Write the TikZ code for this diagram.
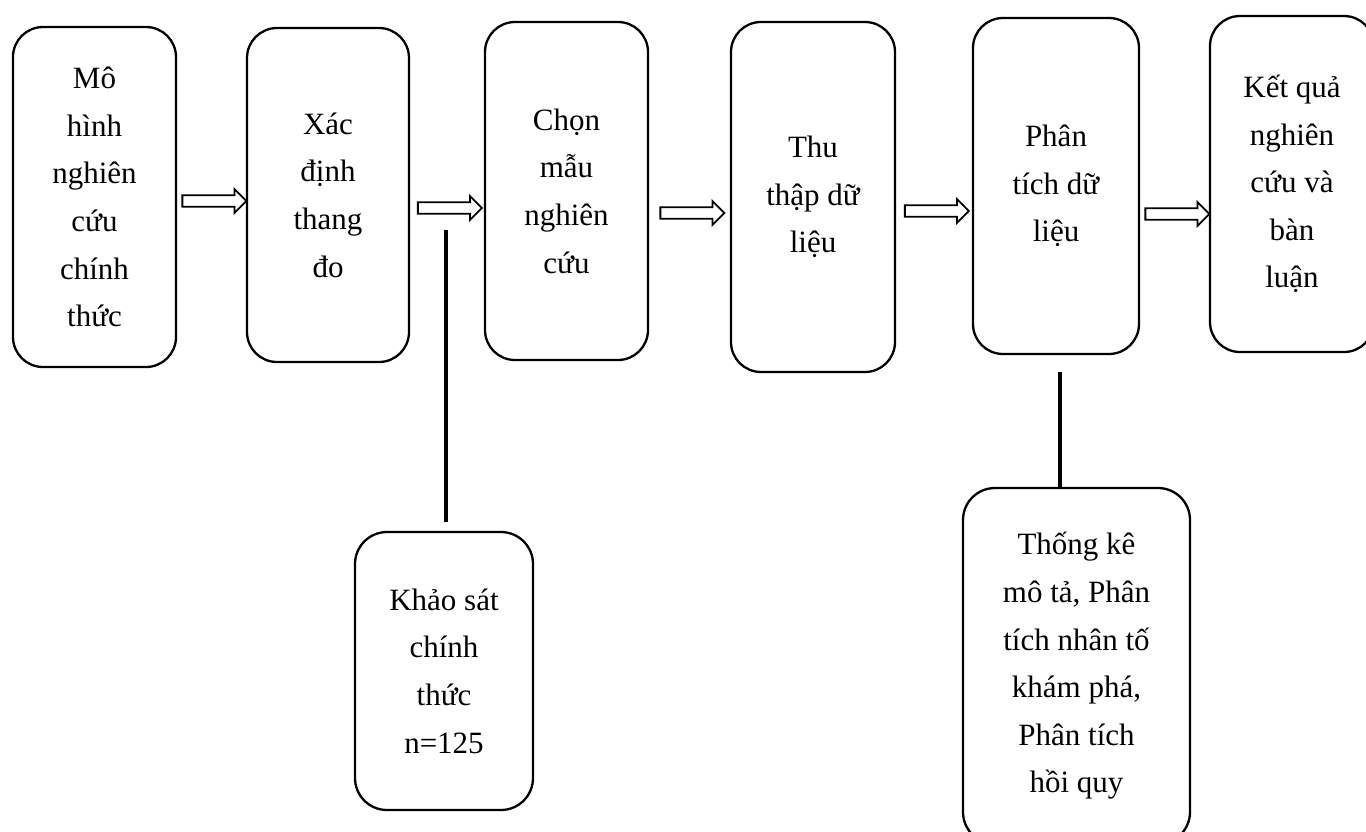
\documentclass[tikz,border=0pt]{standalone}
\usepackage{fontspec}
\setmainfont{Liberation Serif}
\usetikzlibrary{shapes.arrows}

\begin{document}
\begin{tikzpicture}[x=0.5pt,y=-0.5pt,
  stepbox/.style={draw,line width=1.15pt,rounded corners=15pt,align=center,
    font=\fontsize{15.5}{23.8}\selectfont,inner sep=0pt},
  flowarrow/.style={single arrow,draw,fill=white,line width=0.9pt,
    minimum height=32pt,inner xsep=0pt,inner ysep=2.4pt,single arrow head extend=3.1pt},
  link/.style={line width=2pt}]
\useasboundingbox (0,0) rectangle (1366,831);
\clip (0,0) rectangle (1366,831);
% main steps
\node[stepbox,minimum width=81.5pt,minimum height=170pt] (mohinh) at (94.5,197) {Mô\\hình\\nghiên\\cứu\\chính\\thức};
\node[stepbox,minimum width=81pt,minimum height=167pt] (thangdo) at (328,195) {Xác\\định\\thang\\đo};
\node[stepbox,minimum width=81.5pt,minimum height=169pt] (chonmau) at (566.5,191) {Chọn\\mẫu\\nghiên\\cứu};
\node[stepbox,minimum width=82pt,minimum height=175pt] (thuthap) at (813,197) {Thu\\thập dữ\\liệu};
\node[stepbox,minimum width=83pt,minimum height=168pt] (phantich) at (1056,186) {Phân\\tích dữ\\liệu};
\node[stepbox,minimum width=82pt,minimum height=168pt] (ketqua) at (1292,184) {Kết quả\\nghiên\\cứu và\\bàn\\luận};
% sub steps
\node[stepbox,minimum width=89pt,minimum height=139pt,rounded corners=16pt] (khaosat) at (444,671) {Khảo sát\\chính\\thức\\n=125};
\node[stepbox,minimum width=113.5pt,minimum height=178pt,rounded corners=16pt] (thongke) at (1076.5,666) {Thống kê\\mô tả, Phân\\tích nhân tố\\khám phá,\\Phân tích\\hồi quy};
% arrows between steps
\path (mohinh.east |- 0,201) -- (thangdo.west |- 0,201) node[midway,flowarrow] (a1) {};
\path (thangdo.east |- 0,208) -- (chonmau.west |- 0,208) node[midway,flowarrow] (a2) {};
\path (chonmau.east |- 0,213) -- (thuthap.west |- 0,213) node[midway,flowarrow] (a3) {};
\path (thuthap.east |- 0,211) -- (phantich.west |- 0,211) node[midway,flowarrow] (a4) {};
\path (phantich.east |- 0,214) -- (ketqua.west |- 0,214) node[midway,flowarrow] (a5) {};
% links to sub steps
\coordinate (t1) at (446,230);
\coordinate (t2) at (1060,372);
\draw[link,shorten >=4.5pt] (t1) -- (t1 |- khaosat.north);
\draw[link] (t2) -- (t2 |- thongke.north);
\end{tikzpicture}
\end{document}
